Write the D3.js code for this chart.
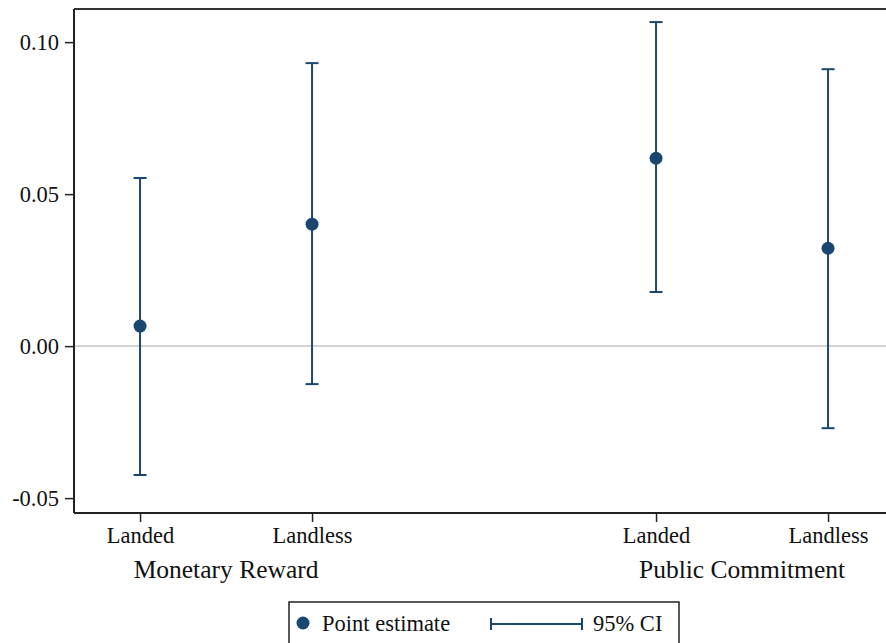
<!DOCTYPE html>
<html>
<head>
<meta charset="utf-8">
<script src="https://cdn.jsdelivr.net/npm/d3@7"></script>
<style>
  body { margin: 0; background: #fff; }
  svg { display: block; }
  text { font-family: "Liberation Serif", "Times New Roman", serif; fill: #111; }
</style>
</head>
<body>
<div id="chart"></div>
<script>
// values
var pos = [1, 2, 4, 5];
var subgroups = ["Landed", "Landless", "Landed", "Landless"];
var estimate = [0.0066, 0.0401, 0.0618, 0.0322];
var ciLow = [-0.0424, -0.0125, 0.0178, -0.0270];
var ciHigh = [0.0553, 0.0931, 0.1066, 0.0911];
var groups = ["Monetary Reward", "Public Commitment"];
var groupPos = [1.5, 4.5];
var yTicks = [-0.05, 0, 0.05, 0.10];

var width = 886, height = 643;
var plotL = 74, plotR = 886, plotT = 9, plotB = 513;
var navy = "#1a476f";

var svg = d3.select("#chart").append("svg")
    .attr("width", width)
    .attr("height", height);

var x = d3.scaleLinear().domain([0.616, 5.337]).range([plotL, plotR]);
var y = d3.scaleLinear().domain([-0.0549, 0.1109]).range([plotB, plotT]);

// zero line
svg.append("line")
    .attr("x1", plotL).attr("x2", plotR)
    .attr("y1", y(0)).attr("y2", y(0))
    .style("stroke", "#c4c4c4")
    .style("stroke-width", 1.5);

// frame top
svg.append("line")
    .attr("x1", plotL).attr("x2", plotR)
    .attr("y1", plotT).attr("y2", plotT)
    .style("stroke", "#333")
    .style("stroke-width", 2);

// y axis
var yAxis = svg.append("g")
    .attr("transform", "translate(" + plotL + ",0)")
    .call(d3.axisLeft(y).tickValues(yTicks).tickSize(9).tickPadding(6));
yAxis.select(".domain").attr("d", "M0," + plotT + "V" + plotB).style("stroke", "#222").style("stroke-width", 2);
yAxis.selectAll(".tick line").style("stroke", "#222").style("stroke-width", 1.5);
yAxis.selectAll(".tick text")
    .style("font-family", "Liberation Serif")
    .style("font-size", "22.5px")
    .style("fill", "#111")
    .text(function(d) { return d < 0 ? "-" + d3.format(".2f")(-d) : d3.format(".2f")(d); });

// x axis
var xAxis = svg.append("g")
    .attr("transform", "translate(0," + plotB + ")")
    .call(d3.axisBottom(x).tickValues(pos).tickFormat(function(d, i) { return subgroups[i]; }).tickSize(9).tickPadding(5));
xAxis.select(".domain").attr("d", "M" + plotL + ",0H" + plotR).style("stroke", "#222").style("stroke-width", 2);
xAxis.selectAll(".tick line").style("stroke", "#222").style("stroke-width", 1.5);
xAxis.selectAll(".tick text")
    .style("font-family", "Liberation Serif")
    .style("font-size", "22.5px")
    .style("fill", "#111");

svg.selectAll(".grouplab")
    .data(groups)
    .enter().append("text")
    .attr("class", "grouplab")
    .attr("x", function(d, i) { return x(groupPos[i]); })
    .attr("y", 578)
    .attr("text-anchor", "middle")
    .style("font-size", "25.5px")
    .text(function(d) { return d; });

// CI whiskers
var ci = svg.append("g");
pos.forEach(function(p, i) {
  ci.append("line")
      .attr("x1", x(p)).attr("x2", x(p))
      .attr("y1", y(ciLow[i])).attr("y2", y(ciHigh[i]))
      .style("stroke", navy).style("stroke-width", 2);
  [ciLow[i], ciHigh[i]].forEach(function(v) {
    ci.append("line")
        .attr("x1", x(p) - 6.5).attr("x2", x(p) + 6.5)
        .attr("y1", y(v)).attr("y2", y(v))
        .style("stroke", navy).style("stroke-width", 2);
  });
});

// point estimates
svg.selectAll(".pt")
    .data(estimate)
    .enter().append("circle")
    .attr("class", "pt")
    .attr("cx", function(d, i) { return x(pos[i]); })
    .attr("cy", function(d) { return y(d); })
    .attr("r", 6.5)
    .style("fill", navy);

// legend
var lg = svg.append("g");
lg.append("rect")
    .attr("x", 289).attr("y", 602)
    .attr("width", 390).attr("height", 60)
    .style("fill", "#fff")
    .style("stroke", "#222")
    .style("stroke-width", 1.5);
lg.append("circle")
    .attr("cx", 303).attr("cy", 623)
    .attr("r", 6.5)
    .style("fill", navy);
lg.append("text")
    .attr("x", 322).attr("y", 631)
    .style("font-size", "22.5px")
    .text("Point estimate");
lg.append("line")
    .attr("x1", 491).attr("x2", 582)
    .attr("y1", 624).attr("y2", 624)
    .style("stroke", navy).style("stroke-width", 2);
[491, 582].forEach(function(xx) {
  lg.append("line")
      .attr("x1", xx).attr("x2", xx)
      .attr("y1", 618).attr("y2", 630)
      .style("stroke", navy).style("stroke-width", 2);
});
lg.append("text")
    .attr("x", 593).attr("y", 631)
    .style("font-size", "22.5px")
    .text("95% CI");
</script>
</body>
</html>
